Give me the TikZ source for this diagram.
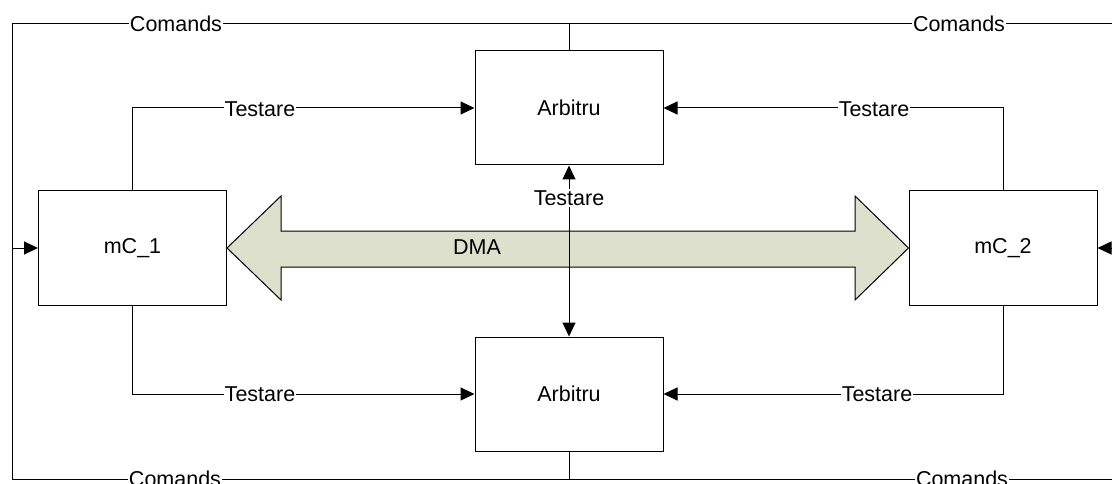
\documentclass[tikz,border=0pt]{standalone}
\usepackage{fontspec}
\setmainfont{Liberation Sans}
\usetikzlibrary{arrows.meta}
\definecolor{dmafill}{RGB}{221,224,204}
\tikzset{
  blk/.style={draw=black, line width=1pt, fill=white, minimum width=188pt, minimum height=114pt, inner sep=0pt, font=\fontsize{21.5}{25}\selectfont},
  conn/.style={line width=1pt, draw=black},
  arr/.style={conn, -{Triangle[length=14pt,width=13pt]}},
  darr/.style={conn, {Triangle[length=14pt,width=13pt]}-{Triangle[length=14pt,width=13pt]}},
  lbl/.style={fill=white, inner sep=1pt, font=\fontsize{21.5}{25}\selectfont},
}
\begin{document}
\begin{tikzpicture}[x=1pt,y=-1pt]
\useasboundingbox (0,0) rectangle (1112,484);
% blocks
\node[blk] (mc1) at (132.5,248) {mC\_1};
\node[blk] (mc2) at (1003,248) {mC\_2};
\node[blk] (arbT) at (569,108) {Arbitru};
\node[blk] (arbB) at (569,394) {Arbitru};
% outer command loop corners
\coordinate (tl) at (12,24);
\coordinate (tr) at (1113,24);
\coordinate (bl) at (12,479);
\coordinate (br) at (1113,479);
\coordinate (tc) at (569,24);
\coordinate (bc) at (569,479);
% DMA double arrow
\draw[line width=1pt, fill=dmafill] (mc1.east) -- (281,196) -- (281,231) -- (855,231) -- (855,196) -- (mc2.west) -- (855,300) -- (855,267) -- (281,267) -- (281,300) -- cycle;
\node[font=\fontsize{21.5}{25}\selectfont] (dma) at (477,247) {DMA};
% Comands lines
\draw[conn] (arbT.north) -- (tc) -- (tl) -- (bl) -- (bc) -- (arbB.south);
\draw[conn] (tc) -- (tr) -- (br) -- (bc);
\draw[arr] (12,248) -- (mc1.west);
\draw[arr] (1113,248) -- (mc2.east);
\node[lbl] (c1) at (176,24) {Comands};
\node[lbl] (c2) at (959,24) {Comands};
\node[lbl] (c3) at (175,479) {Comands};
\node[lbl] (c4) at (962,479) {Comands};
% Testare lines
\draw[arr] (mc1.north) |- (arbT.west);
\draw[arr] (mc2.north) |- (arbT.east);
\draw[arr] (mc1.south) |- (arbB.west);
\draw[arr] (mc2.south) |- (arbB.east);
\node[lbl] (t1) at (260,109) {Testare};
\node[lbl] (t2) at (874,109) {Testare};
\node[lbl] (t3) at (260,394) {Testare};
\node[lbl] (t4) at (877,394) {Testare};
% vertical arbiter link
\draw[darr] (arbB.north) -- (arbT.south);
\node[lbl] (t5) at (569,198) {Testare};
\end{tikzpicture}
\end{document}
